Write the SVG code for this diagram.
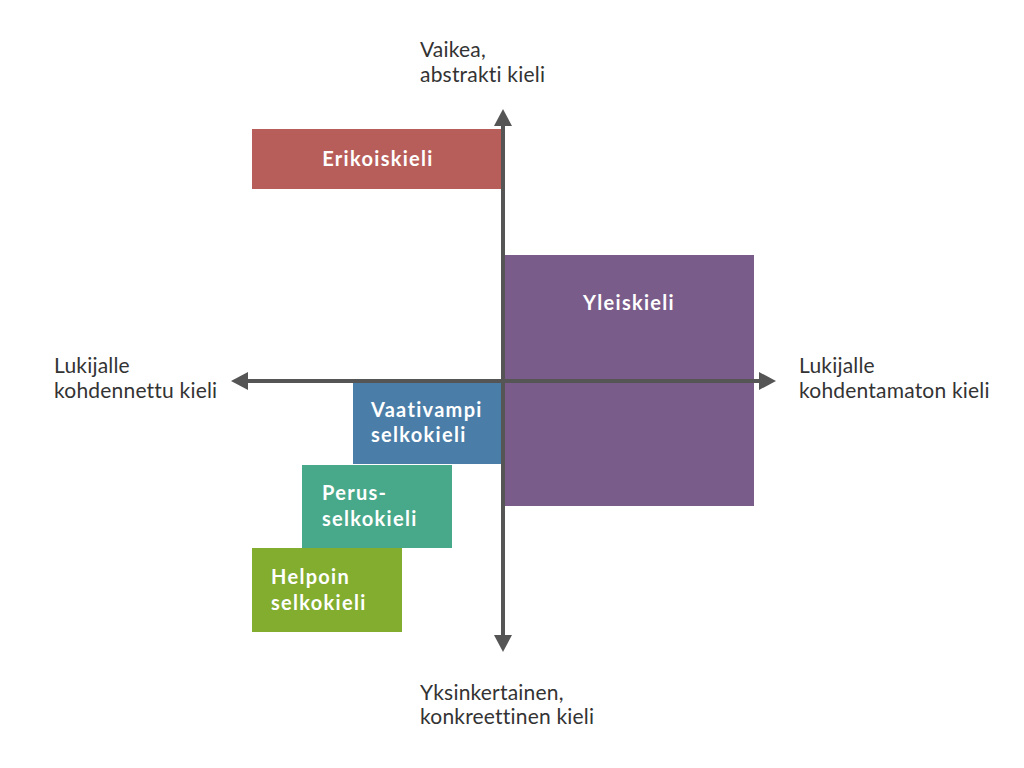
<svg xmlns="http://www.w3.org/2000/svg" width="1024" height="768" viewBox="0 0 1024 768">
<defs>
<style>
.lbl{font-family:Lato,"Liberation Sans",sans-serif;font-size:21px;letter-spacing:0.2px;fill:#333;font-variant-ligatures:none}
.box{font-family:Lato,"Liberation Sans",sans-serif;font-size:20px;font-weight:bold;letter-spacing:1.3px;fill:#fff;font-variant-ligatures:none}
.ax{stroke:#555;stroke-width:4;fill:none}
.head{fill:#555}
</style>
</defs>
<rect width="1024" height="768" fill="#fff"/>
<g id="erikoiskieli">
<rect x="252" y="129" width="249" height="60" fill="#b85e5a"/>
<text class="box" x="378" y="166" text-anchor="middle">Erikoiskieli</text>
</g>
<g id="yleiskieli">
<rect x="503" y="255" width="251" height="251" fill="#7a5c8a"/>
<text class="box" x="629" y="310" text-anchor="middle">Yleiskieli</text>
</g>
<g id="vaativampi">
<rect x="353" y="382" width="148" height="82" fill="#4a7ea8"/>
<text class="box" x="371" y="417">Vaativampi</text>
<text class="box" x="371" y="442">selkokieli</text>
</g>
<g id="perus">
<rect x="302" y="465" width="150" height="83" fill="#48a88a"/>
<text class="box" x="322" y="500">Perus-</text>
<text class="box" x="322" y="526">selkokieli</text>
</g>
<g id="helpoin">
<rect x="252" y="548" width="150" height="84" fill="#82ad2f"/>
<text class="box" x="271" y="584">Helpoin</text>
<text class="box" x="271" y="610">selkokieli</text>
</g>
<g id="connectors">
<line class="ax" x1="503" y1="124" x2="503" y2="636"/>
<polygon class="head" points="503,109 494,126 512,126"/>
<polygon class="head" points="503,652 494,635 512,635"/>
<line class="ax" x1="248" y1="381" x2="760" y2="381"/>
<polygon class="head" points="231,381 248,372 248,390"/>
<polygon class="head" points="776,381 759,372 759,390"/>
</g>
<g id="labels">
<text class="lbl" x="420" y="57">Vaikea,</text>
<text class="lbl" x="420" y="82">abstrakti kieli</text>
<text class="lbl" x="420" y="700">Yksinkertainen,</text>
<text class="lbl" x="420" y="724">konkreettinen kieli</text>
<text class="lbl" x="54" y="373">Lukijalle</text>
<text class="lbl" x="54" y="398">kohdennettu kieli</text>
<text class="lbl" x="799" y="373">Lukijalle</text>
<text class="lbl" x="799" y="398">kohdentamaton kieli</text>
</g>
</svg>
